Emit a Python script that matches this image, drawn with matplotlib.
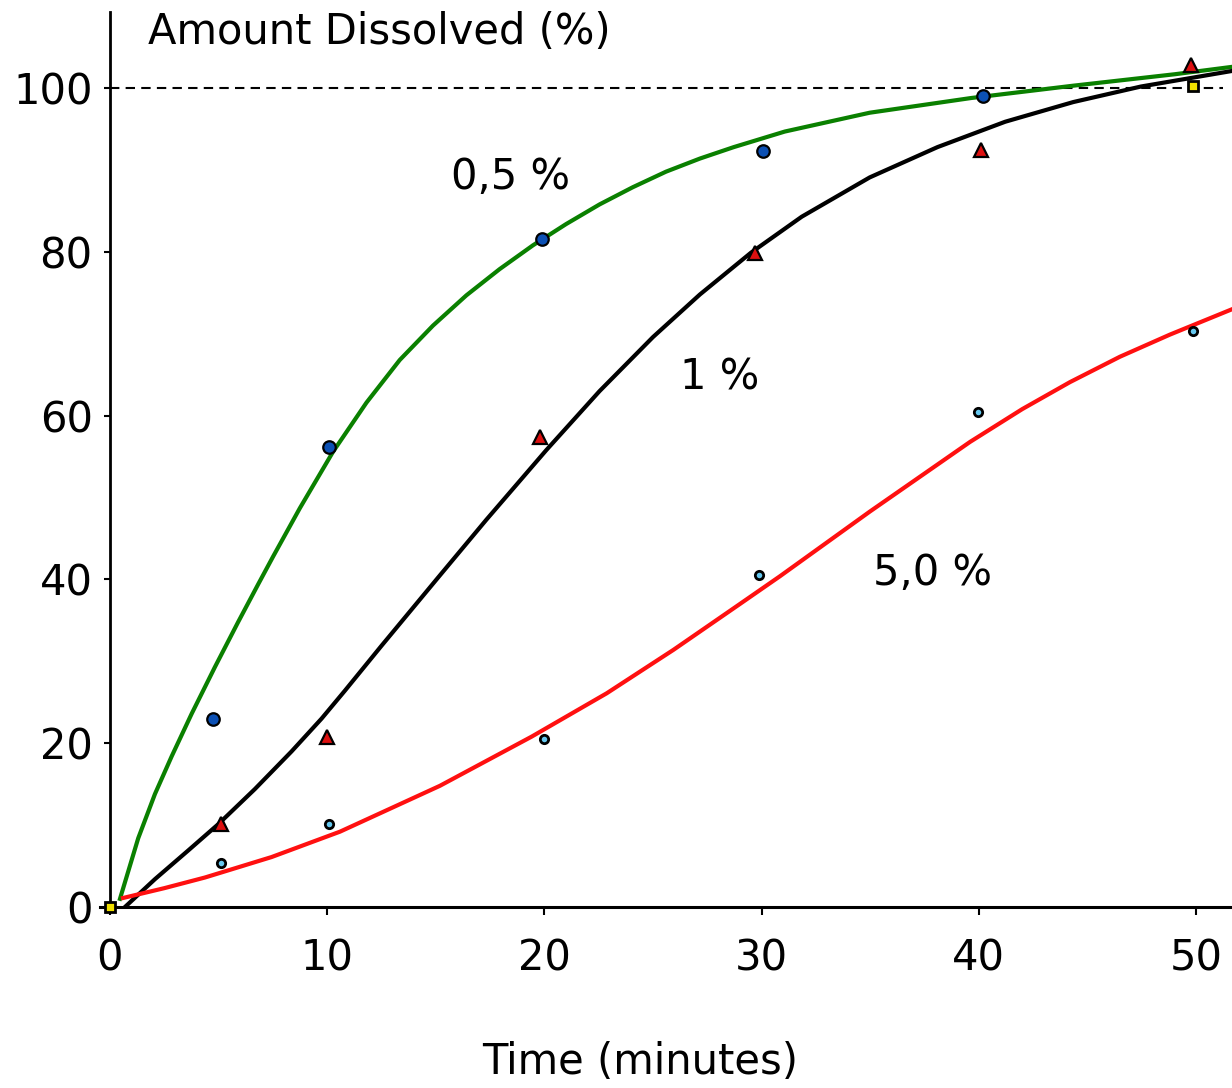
import matplotlib
matplotlib.use('Agg')
import matplotlib.pyplot as plt

# measured points
t_05 = [4.74, 10.07, 19.87, 30.05, 40.2]
y_05 = [22.9, 56.2, 81.6, 92.3, 99.0]
t_1 = [5.1, 10.0, 19.8, 29.7, 40.1, 49.75]
y_1 = [10.1, 20.8, 57.4, 79.9, 92.5, 102.8]
t_5 = [5.1, 10.07, 19.98, 29.9, 39.98, 49.88]
y_5 = [5.4, 10.1, 20.5, 40.5, 60.4, 70.4]
t_ref = [0.0, 49.87]
y_ref = [0.0, 100.3]

# fitted curves
curve_05_t = [0.46, 1.30, 2.07, 2.84, 3.76, 4.83, 5.90, 6.82, 7.51, 8.74, 10.27,
              11.81, 13.34, 14.87, 16.41, 17.94, 19.47, 21.0, 22.54, 24.07, 25.6,
              27.16, 28.72, 31.07, 34.98, 39.66, 44.35, 49.03, 51.66]
curve_05_y = [1.0, 8.4, 13.8, 18.4, 23.6, 29.3, 34.8, 39.4, 42.8, 48.7, 55.6,
              61.6, 66.8, 71.0, 74.7, 77.9, 80.8, 83.4, 85.8, 87.9, 89.8,
              91.4, 92.8, 94.7, 97.0, 98.8, 100.3, 101.7, 102.6]
curve_1_t = [0.69, 2.07, 3.6, 4.98, 6.67, 8.36, 9.74, 10.81, 12.5, 15.19, 17.33,
             20.09, 22.54, 25.0, 27.16, 29.51, 31.85, 34.98, 38.1, 41.22, 44.35,
             47.47, 51.66]
curve_1_y = [0.0, 3.4, 6.9, 10.1, 14.4, 19.0, 23.0, 26.4, 31.9, 40.5, 47.3,
             55.8, 63.0, 69.6, 74.8, 79.9, 84.3, 89.1, 92.8, 95.9, 98.3,
             100.2, 102.1]
curve_5_t = [0.6, 2.5, 4.37, 7.44, 10.59, 15.19, 19.41, 22.87, 25.94, 29.0,
             30.85, 34.99, 39.6, 42.0, 44.2, 46.5, 48.8, 51.66]
curve_5_y = [1.1, 2.3, 3.6, 6.1, 9.2, 14.8, 20.8, 26.1, 31.4, 37.0,
             40.4, 48.3, 56.8, 60.8, 64.1, 67.2, 69.9, 73.0]

x_ticks = [0, 10, 20, 30, 40, 50]
y_ticks = [0, 20, 40, 60, 80, 100]

plt.rcParams['font.family'] = ['DejaVu Sans']
fs = 30

fig = plt.figure(figsize=(12.32, 10.88), dpi=100)
ax = fig.add_axes([100 / 1232, 1 - 907 / 1088, 1132 / 1232, 895 / 1088])

ax.axhline(100, xmin=0.46 / 52.12, xmax=51.7 / 52.12, color='black',
           linestyle=(0, (4.5, 3)), linewidth=1.5, zorder=1)

ax.plot(curve_05_t, curve_05_y, color='#0a8000', linewidth=3.0, zorder=2)
ax.plot(curve_1_t, curve_1_y, color='black', linewidth=3.0, zorder=2)
ax.plot(curve_5_t, curve_5_y, color='#ff1010', linewidth=3.0, zorder=2)

ax.plot(t_05, y_05, 'o', ms=9, mfc='#0c50b4', mec='black', mew=1.6,
        zorder=3, clip_on=False)
ax.plot(t_1, y_1, '^', ms=10, mfc='#dd1010', mec='black', mew=1.6,
        zorder=3, clip_on=False)
ax.plot(t_5, y_5, 'o', ms=6, mfc='#66c8f0', mec='black', mew=2.0,
        zorder=3, clip_on=False)
ax.plot(t_ref, y_ref, 's', ms=7, mfc='#f0e000', mec='black', mew=2.0,
        zorder=4, clip_on=False)

ax.text(18.42, 89.1, '0,5 %', fontsize=fs, ha='center', va='center')
ax.text(28.08, 64.7, '1 %', fontsize=fs, ha='center', va='center')
ax.text(37.85, 40.8, '5,0 %', fontsize=fs, ha='center', va='center')

ax.set_xlim(-0.46, 51.66)
ax.set_ylim(0, 109.3)
ax.set_xticks(x_ticks)
ax.set_yticks(y_ticks)
ax.tick_params(axis='x', direction='out', length=6, width=1.5, pad=16, labelsize=fs)
ax.tick_params(axis='y', direction='out', length=4.5, width=1.5, pad=8, labelsize=fs)

for side in ['top', 'right']:
    ax.spines[side].set_visible(False)
ax.spines['left'].set_position(('data', 0))
ax.spines['left'].set_linewidth(2.0)
ax.spines['bottom'].set_linewidth(2.2)

fig.text(148 / 1232, 1 - 32 / 1088, 'Amount Dissolved (%)', fontsize=fs,
         ha='left', va='center')
fig.text(640 / 1232, 1 - 1062 / 1088, 'Time (minutes)', fontsize=fs,
         ha='center', va='center')

fig.savefig('out.png', dpi=100)
